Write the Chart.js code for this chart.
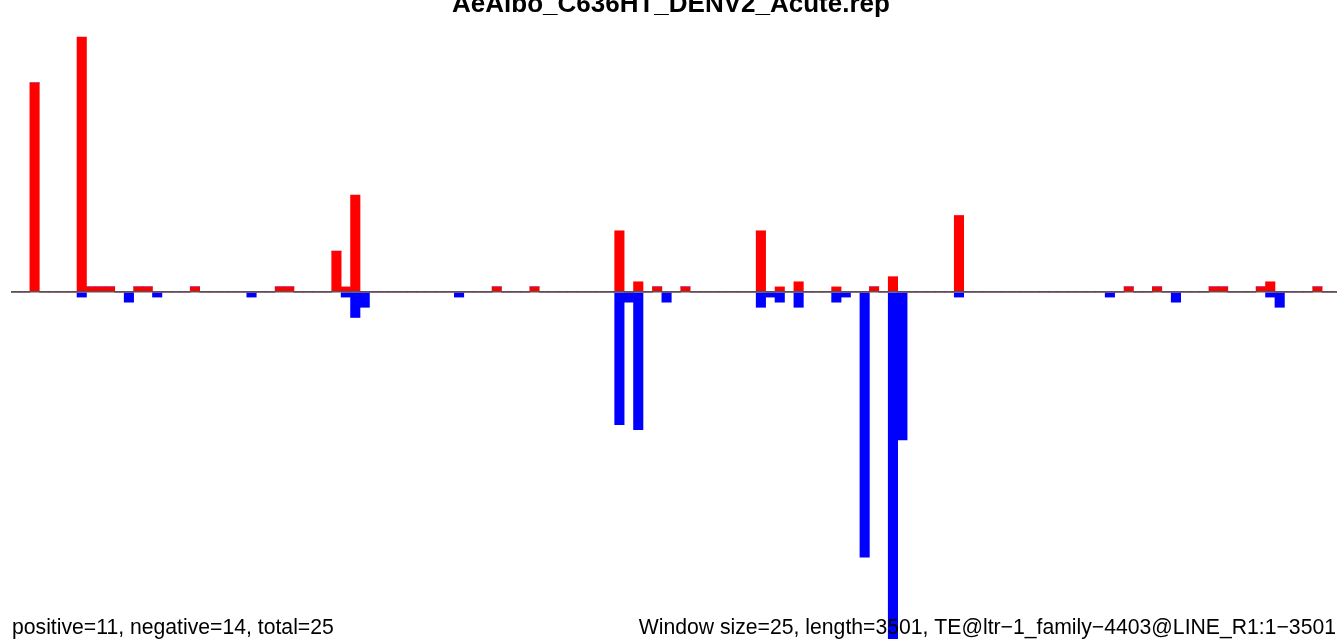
<!DOCTYPE html>
<html>
<head>
<meta charset="utf-8">
<script src="https://cdn.jsdelivr.net/npm/chart.js@4"></script>
<style>
  html, body { margin: 0; padding: 0; background: #fff; overflow: hidden; }
  #wrap { width: 1341px; height: 639px; }
</style>
</head>
<body>
<div id="wrap"><canvas id="repChart" width="1341" height="639"></canvas></div>
<script>
// --- data (window bins of 25 bp, length 3501) ---
const nBins = 141;
const posBins   = [2, 7, 8, 9, 10, 13, 14, 19, 28, 29, 34, 35, 36, 51, 55, 64, 66, 68, 71, 79, 81, 83, 87, 91, 93, 100, 118, 121, 127, 128, 132, 133, 138];
const posCounts = [41, 50, 1, 1, 1, 1, 1, 1, 1, 1, 8, 1, 19, 1, 1, 12, 2, 1, 1, 12, 1, 2, 1, 1, 3, 15, 1, 1, 1, 1, 1, 2, 1];
const negBins   = [7, 12, 15, 25, 35, 36, 37, 47, 64, 65, 66, 69, 79, 80, 81, 83, 87, 88, 90, 93, 94, 100, 116, 123, 133, 134];
const negCounts = [1, 2, 1, 1, 1, 5, 3, 1, 26, 2, 27, 2, 3, 1, 2, 3, 2, 1, 52, 69, 29, 1, 1, 2, 1, 3];

const titleText = 'AeAlbo_C636HT_DENV2_Acute.rep';
const leftNote = 'positive=11, negative=14, total=25';
const rightNote = 'Window size=25, length=3501, TE@ltr\u22121_family\u22124403@LINE_R1:1\u22123501';

const labels = Array.from({ length: nBins }, (_, i) => i);
const posData = new Array(nBins).fill(0);
const negData = new Array(nBins).fill(0);
posBins.forEach((b, k) => { posData[b] = posCounts[k]; });
negBins.forEach((b, k) => { negData[b] = -negCounts[k]; });

// --- text overlay (title clipped at top, notes at bottom) ---
const textPlugin = {
  id: 'textOverlay',
  afterDraw(chart) {
    const ctx = chart.ctx;
    ctx.save();
    ctx.fillStyle = '#000';
    ctx.textBaseline = 'alphabetic';
    ctx.font = 'bold 26px "Liberation Sans", Arial, sans-serif';
    ctx.textAlign = 'center';
    ctx.fillText(titleText, 671, 12);
    ctx.font = '21.2px "Liberation Sans", Arial, sans-serif';
    ctx.textAlign = 'left';
    ctx.fillText(leftNote, 12, 634);
    ctx.textAlign = 'right';
    ctx.fillText(rightNote, 1336, 634);
    ctx.restore();
  }
};

const ctx = document.getElementById('repChart').getContext('2d');
new Chart(ctx, {
  type: 'bar',
  data: {
    labels: labels,
    datasets: [
      { label: 'positive', data: posData, backgroundColor: '#ff0000', barPercentage: 1, categoryPercentage: 1 },
      { label: 'negative', data: negData, backgroundColor: '#0000ff', barPercentage: 1, categoryPercentage: 1 }
    ]
  },
  options: {
    responsive: false,
    animation: false,
    events: [],
    layout: { padding: { left: 11, right: 0, top: 0, bottom: 0 } },
    plugins: { legend: { display: false }, tooltip: { enabled: false }, title: { display: false } },
    scales: {
      x: { stacked: true, display: false, offset: true },
      y: {
        stacked: true,
        min: -68.04,
        max: 57.25,
        afterBuildTicks: (axis) => { axis.ticks = [{ value: 0 }]; },
        ticks: { display: false },
        border: { display: false },
        grid: { z: 1, color: '#555555', lineWidth: 1.5, drawTicks: false }
      }
    }
  },
  plugins: [textPlugin]
});
</script>
</body>
</html>
